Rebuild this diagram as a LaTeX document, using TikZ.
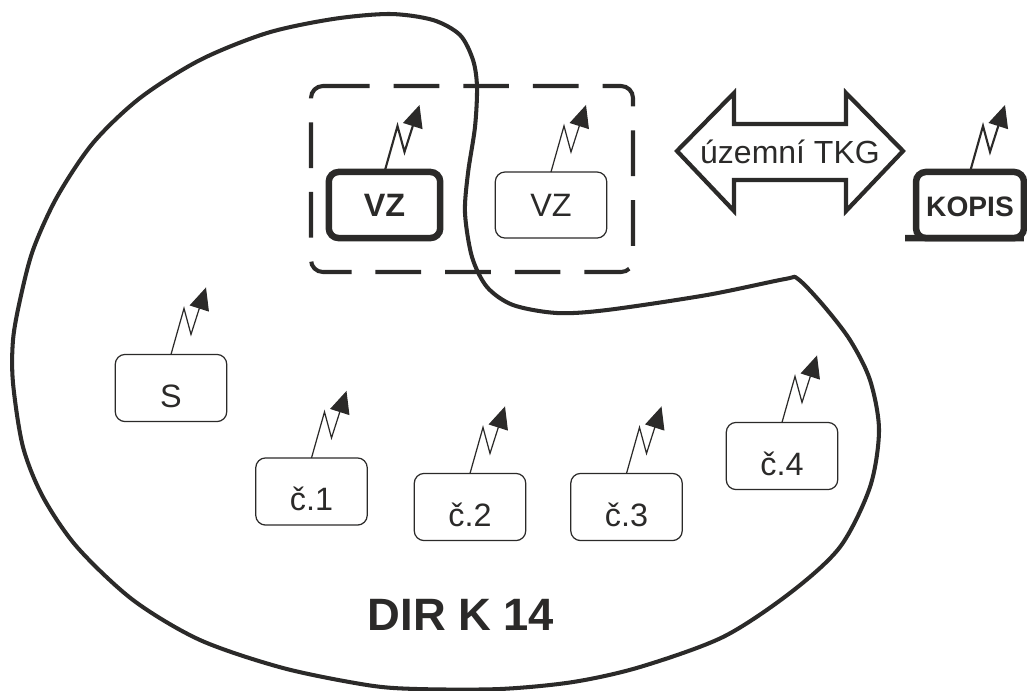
\documentclass[tikz,border=0pt]{standalone}
\usepackage{fontspec}
\setmainfont{Liberation Sans}
\usepackage{xcolor}
\usetikzlibrary{arrows.meta}
\definecolor{ink}{RGB}{43,42,41}

\begin{document}
\begin{tikzpicture}[%
    x=0.01cm,
    y=-0.01cm,
    station/.style={
      rectangle,
      draw=ink,
      text=ink,
      line width=0.35pt,
      rounded corners=2.8pt,
      inner sep=0pt,
      outer sep=0pt,
      align=center,
      font=\fontsize{9.2}{11}\selectfont,
      minimum width=31.7pt,
      minimum height=19.1pt,
      text height=10.8pt,
      text depth=0pt
    },
    middleText/.style={
      minimum height=18.8pt,
      text height=6.6pt,
      text depth=0pt
    },
    boldStation/.style={
      station,
      middleText,
      line width=1.85pt,
      font=\fontsize{9.2}{11}\selectfont\bfseries
    },
    mast/.style={
      draw=ink,
      line width=0.35pt,
      -{Triangle[length=6.3pt,width=5.7pt]}
    },
    aerial/.style={
      insert path={-- ++(13,-46) -- ++(7,26) -- ++(15,-47)}
    },
    outline/.style={
      draw=ink,
      line width=1.15pt
    }
  ]
    \useasboundingbox (0,0) rectangle (1027,690);

    % Big outline
    \draw[outline] plot[smooth cycle, tension=0.5] coordinates {
      (390,14) (433,20) (460,35) (473,60) (477,87) (475,127) (468,173) (465,213)
      (472,257) (487,287) (513,305) (557,313) (607,310) (707,295) (785,279) (798,279)
      (823,305) (850,340) (870,380) (879,430) (870,487) (840,547) (790,593) (723,637)
      (640,667) (573,682) (500,689) (417,689) (367,685) (283,668) (200,640) (133,600)
      (77,547) (43,497) (23,447) (13,383) (13,340) (20,300) (33,250) (57,197)
      (93,143) (140,98) (200,60) (267,33) (333,19)
    };

    % Frame round the two VZ
    \draw[outline, rounded corners=3.4pt, dash pattern=on 13pt off 6.8pt]
      (324,86) -- (633,86) -- (633,272) -- (311,272) -- (311,86) -- (324,86);

    % Double arrow
    \draw[outline, line width=1.2pt, miter limit=4]
      (677,151) -- (734,93) -- (734,124) -- (846,124) -- (846,93) -- (903,151)
      -- (846,211) -- (846,180) -- (734,180) -- (734,211) -- cycle;

    \draw (790,152) node[station, draw=none, middleText, font=\fontsize{9.1}{11}\selectfont] (TKG) {územní TKG}
          (384.5,205) node[boldStation] (VZA) {VZ}
          (551,205) node[station, middleText] (VZB) {VZ}
          (970,205) node[boldStation, minimum width=30.7pt, font=\fontsize{8}{10}\selectfont\bfseries] (KOPIS) {KOPIS}
          (171,388) node[station] (S) {S}
          (311.5,491.5) node[station] (A) {č.1}
          (470,507) node[station] (B) {č.2}
          (626.5,507) node[station] (C) {č.3}
          (782,456) node[station] (D) {č.4}
          (461,615) node[text=ink, inner sep=0pt, font=\fontsize{12.9}{15}\selectfont\bfseries] (DIR) {DIR K 14};

    \coordinate (foot) at (905,238);
    \draw[ink, line width=1.85pt] (foot) -- (KOPIS.south east);

    \draw[mast, line width=0.6pt] (VZA.north) [aerial];
    \draw[mast] (VZB.north) [aerial];
    \draw[mast, line width=0.6pt] (KOPIS.north) [aerial];
    \draw[mast] (S.north) [aerial];
    \draw[mast] (A.north) [aerial];
    \draw[mast] (B.north) [aerial];
    \draw[mast] (C.north) [aerial];
    \draw[mast] (D.north) [aerial];
\end{tikzpicture}
\end{document}
